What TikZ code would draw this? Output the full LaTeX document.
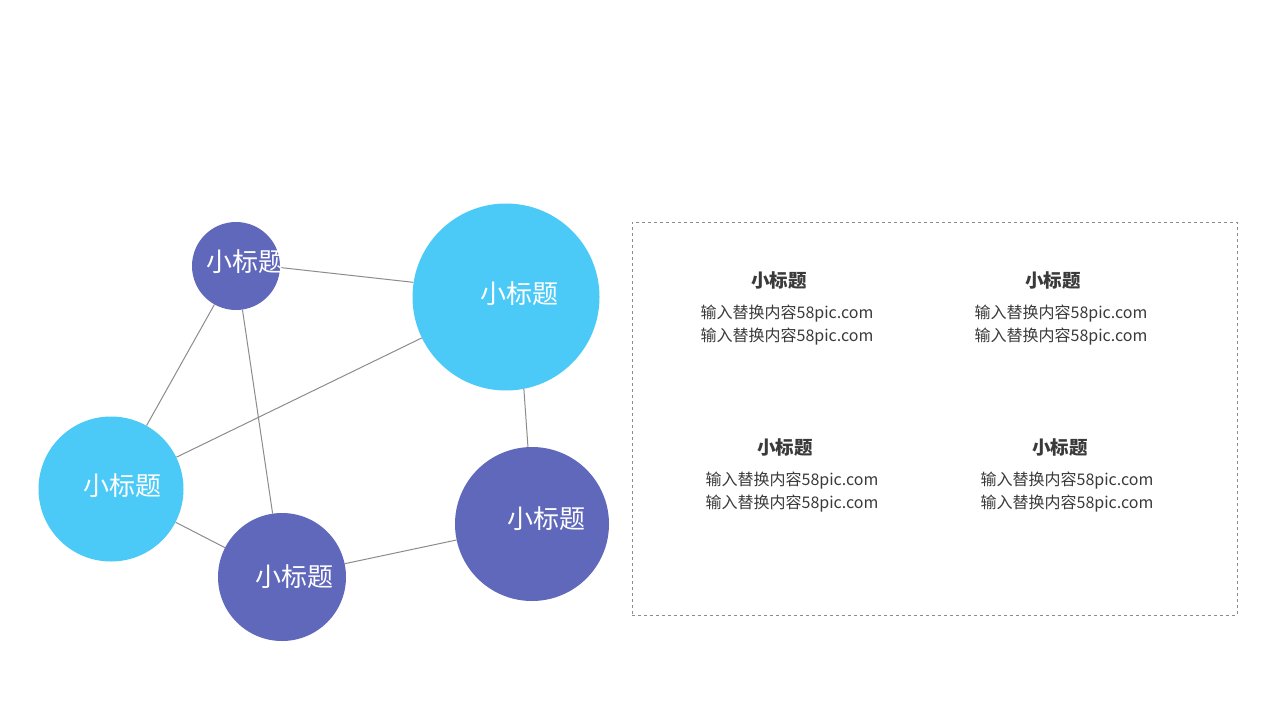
\documentclass[tikz,border=0pt]{standalone}
\usepackage{fontspec}
\setmainfont{Noto Sans CJK SC}
\usetikzlibrary{backgrounds}
\definecolor{cyanc}{HTML}{4BCAF8}
\definecolor{purc}{HTML}{6068BC}
\definecolor{linec}{HTML}{8C8C8C}
\definecolor{txtc}{HTML}{3A3A3A}
\tikzset{
  bubble/.style={circle,inner sep=0pt,draw=none},
  bublabel/.style={text=white,font=\fontsize{26}{30}\selectfont,inner sep=0pt},
  link/.style={draw=linec,line width=1pt},
  ttl/.style={text=txtc,font=\fontsize{18.5}{22}\selectfont\bfseries,inner sep=0pt},
  body/.style={text=txtc,font=\fontsize{16}{23}\selectfont,inner sep=0pt,align=center},
  frame/.style={draw=linec,dashed,line width=0.8pt}
}
\begin{document}
\begin{tikzpicture}[x=1pt,y=-1pt]
\useasboundingbox (0,0) rectangle (1280,720);
% bubbles
\node[bubble,fill=purc,minimum size=88pt] (p1) at (236,266) {};
\node[bubble,fill=cyanc,minimum size=187pt] (c1) at (506,297) {};
\node[bubble,fill=cyanc,minimum size=145pt] (c2) at (111,489) {};
\node[bubble,fill=purc,minimum size=128pt] (p2) at (282,577) {};
\node[bubble,fill=purc,minimum size=154pt] (p3) at (532,524) {};
% labels
\node[bublabel] (l1) at (245,262) {小标题};
\node[bublabel] (l2) at (519,294) {小标题};
\node[bublabel] (l3) at (122,486) {小标题};
\node[bublabel] (l4) at (294,577) {小标题};
\node[bublabel] (l5) at (546,519) {小标题};
% connectors
\begin{pgfonlayer}{background}
\fill[white] (0,0) rectangle (1280,720);
\draw[link] (p1.-2.5) -- (c1.171.4);
\draw[link] (p1) -- (c2);
\draw[link] (p1) -- (p2);
\draw[link] (c1) -- (c2);
\draw[link] (c1.-79.4) -- (p3.93.7);
\draw[link] (c2) -- (p2);
\draw[link] (p2) -- (p3);
\end{pgfonlayer}
% panel
\node[frame,minimum width=605pt,minimum height=393pt,inner sep=0pt] (panel) at (934.5,418.5) {};
\node[ttl] (t1) at (779,280) {小标题};
\node[body] (b1) at (787,325.5) {输入替换内容58pic.com\\输入替换内容58pic.com};
\node[ttl] (t2) at (1053,280) {小标题};
\node[body] (b2) at (1061,325.5) {输入替换内容58pic.com\\输入替换内容58pic.com};
\node[ttl] (t3) at (785,447) {小标题};
\node[body] (b3) at (792,492.5) {输入替换内容58pic.com\\输入替换内容58pic.com};
\node[ttl] (t4) at (1060,447) {小标题};
\node[body] (b4) at (1067,492.5) {输入替换内容58pic.com\\输入替换内容58pic.com};
\end{tikzpicture}
\end{document}
